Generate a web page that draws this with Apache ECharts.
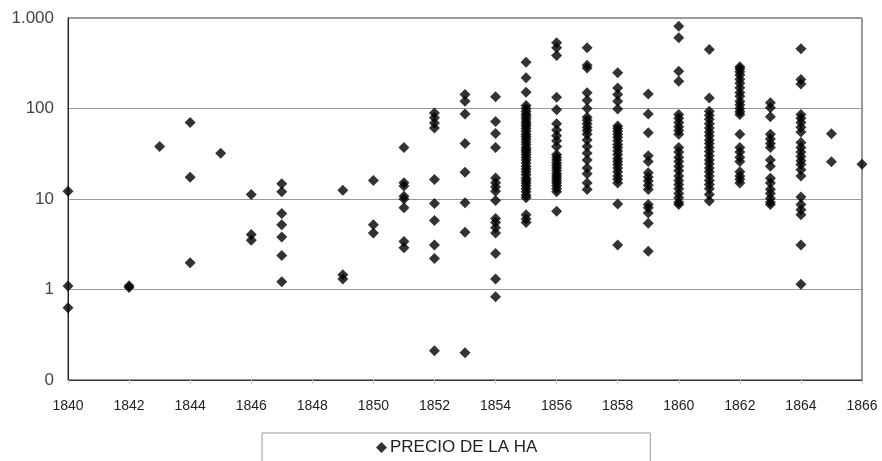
<!DOCTYPE html>
<html><head><meta charset="utf-8">
<script src="https://cdn.jsdelivr.net/npm/echarts@6/dist/echarts.min.js"></script>
<style>html,body{margin:0;padding:0;background:#fff}#c{width:882px;height:461px}</style>
</head><body><div id="c"></div>
<script>
const seriesName = 'PRECIO DE LA HA';
const xTicks = [1840,1842,1844,1846,1848,1850,1852,1854,1856,1858,1860,1862,1864,1866];
const yTickLabels = {0.1:'0', 1:'1', 10:'10', 100:'100', 1000:'1.000'};
const years = [1840,1842,1843,1844,1845,1846,1847,1849,1850,1851,1852,1853,1854,1855,1856,1857,1858,1859,1860,1861,1862,1863,1864,1865,1866];
const p1840 = [12.2, 1.09, 0.63];
const p1842 = [1.05, 1.1];
const p1843 = [38];
const p1844 = [70, 17.4, 1.97];
const p1845 = [32];
const p1846 = [11.2, 4.05, 3.5];
const p1847 = [14.7, 12, 6.9, 5.2, 3.8, 2.37, 1.22];
const p1849 = [12.5, 1.46, 1.31];
const p1850 = [16, 5.2, 4.2];
const p1851 = [37, 15.1, 13.9, 10.7, 10, 8, 3.4, 2.9];
const p1852 = [89, 79, 69, 61, 16.4, 8.9, 5.8, 3.1, 2.2, 0.21];
const p1853 = [143, 120, 87, 41, 19.8, 9.1, 4.3, 0.2];
const p1854 = [135, 72, 53, 37, 17.1, 15.1, 13.6, 12.2, 9.6, 6.1, 5.5, 4.8, 4.2, 2.5, 1.31, 0.83];
const p1855 = [325, 218, 151, 108, 100, 93, 87, 82, 77, 72, 68, 64, 60, 56, 52, 49, 46, 43, 40, 37, 35, 33, 31, 29, 27, 25, 23, 21.5, 20, 18.5, 17, 16, 15, 14, 13, 12, 11, 10.3, 6.7, 6.0, 5.5];
const p1856 = [532, 469, 385, 133, 97, 68, 58, 50, 44, 38, 31, 29, 27, 25, 23.5, 22, 20.5, 19, 18, 17, 16, 15, 14, 13, 12, 7.3];
const p1857 = [469, 300, 280, 149, 123, 100, 80, 74, 68, 62, 57, 52, 45, 38, 32, 27, 22, 19, 15, 12.7];
const p1858 = [248, 169, 143, 120, 99, 64, 60, 56, 52, 48, 44, 40, 37, 34, 31, 28, 26, 24, 22, 20, 18, 16.5, 15, 8.8, 3.1];
const p1859 = [145, 87, 54, 30, 26, 19.5, 17.5, 15.8, 14.2, 12.7, 8.7, 8.0, 7.0, 5.4, 2.65];
const p1860 = [812, 604, 258, 200, 86, 78, 70, 63, 57, 52, 37, 33, 29, 26, 23, 20.5, 18, 16, 14.5, 13, 11.5, 10.3, 9.2, 8.7];
const p1861 = [449, 131, 93, 84, 76, 68, 61, 55, 50, 45, 41, 37, 33.5, 30, 27, 24.5, 22, 20, 18, 16, 14.5, 13, 11.2, 9.5];
const p1862 = [290, 275, 255, 235, 210, 190, 170, 150, 137, 120, 110, 100, 92, 86, 52, 37, 33, 29, 26, 20, 18, 16.5, 15];
const p1863 = [116, 102, 81, 52, 46, 41, 37, 27, 23, 17, 15, 12.8, 11.5, 10.2, 9.2, 8.7];
const p1864 = [457, 209, 187, 86, 78, 70, 62, 55, 42, 37, 33, 29.5, 26.5, 24, 21, 17.9, 10.5, 8.7, 7.6, 6.7, 3.1, 1.14];
const p1865 = [52.5, 25.8];
const p1866 = [24.2];
const pricesByYear = [p1840,p1842,p1843,p1844,p1845,p1846,p1847,p1849,p1850,p1851,p1852,p1853,p1854,p1855,p1856,p1857,p1858,p1859,p1860,p1861,p1862,p1863,p1864,p1865,p1866];

const points = [];
years.forEach((y, i) => pricesByYear[i].forEach(v => points.push([y, v])));

const FONT = '"Liberation Sans", Arial, sans-serif';
const chart = echarts.init(document.getElementById('c'), null, {renderer: 'canvas'});
chart.setOption({
  animation: false,
  backgroundColor: '#fff',
  grid: {left: 68, right: 20, top: 18, bottom: 81, show: true, borderColor: '#333', borderWidth: 1, backgroundColor: 'transparent'},
  xAxis: {
    type: 'value', min: 1840, max: 1866, interval: 2,
    axisLine: {show: true, lineStyle: {color: '#333', width: 1}},
    axisTick: {show: true, length: 4, lineStyle: {color: '#ccc'}},
    axisLabel: {color: '#222', fontFamily: FONT, fontSize: 14, margin: 19,
      formatter: v => xTicks.includes(v) ? String(v) : ''},
    splitLine: {show: false}
  },
  yAxis: {
    type: 'log', logBase: 10, min: 0.1, max: 1000,
    axisLine: {show: true, lineStyle: {color: '#222', width: 1}},
    axisTick: {show: false},
    axisLabel: {color: '#444', fontFamily: FONT, fontSize: 17, margin: 14,
      formatter: v => {
        const k = Object.keys(yTickLabels).find(t => Math.abs(Math.log10(+t) - Math.log10(v)) < 0.01);
        return k !== undefined ? yTickLabels[k] : '';
      }},
    splitLine: {show: true, lineStyle: {color: '#999', width: 1}}
  },
  legend: {
    show: true, top: 433, left: 262, width: 390,
    data: [{name: seriesName, icon: 'diamond'}],
    itemWidth: 11, itemHeight: 11, itemGap: 4,
    padding: [6, 113, 30, 114],
    borderColor: '#999', borderWidth: 1,
    textStyle: {color: '#222', fontFamily: FONT, fontSize: 17, padding: [0,0,0,-2]}
  },
  series: [{
    name: seriesName, type: 'scatter', symbol: 'diamond', symbolSize: 11,
    itemStyle: {color: '#000'},
    data: points, clip: false
  }]
});
</script></body></html>
